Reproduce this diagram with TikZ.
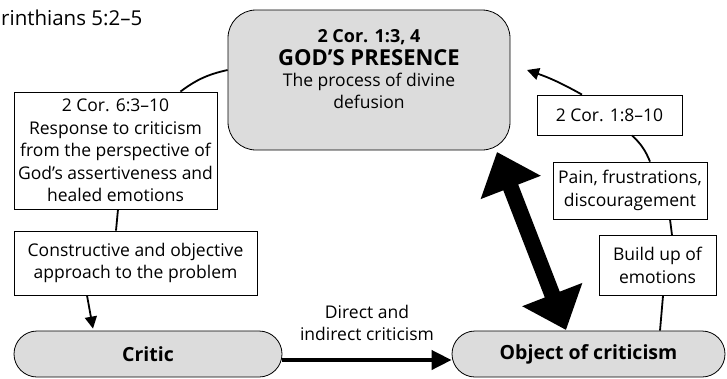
\documentclass[tikz,border=0pt]{standalone}
\usepackage{fontspec}
\setmainfont{Open Sans}
\usetikzlibrary{arrows.meta,calc}
\definecolor{boxgray}{RGB}{220,220,220}
\tikzset{
  txt/.style={font=\fontsize{17.5}{22.5}\selectfont, align=center},
  plainbox/.style={draw, line width=0.8pt, fill=white, inner sep=0pt, txt},
  roundbox/.style={draw, line width=0.8pt, fill=boxgray, rounded corners=23pt, inner sep=0pt, font=\fontsize{19.5}{22}\bfseries},
  conn/.style={line width=1.8pt},
  connarrow/.style={line width=1.8pt, -{Triangle[length=12pt,width=12pt]}},
}
\begin{document}
\begin{tikzpicture}[x=1pt,y=-1pt]
\useasboundingbox (0,0) rectangle (727,378);
% title
\node[anchor=base west, inner sep=0pt, font=\fontsize{20.5}{24}\selectfont] (title) at (1,25) {rinthians 5:2–5};
% top box
\node[draw, line width=0.8pt, fill=boxgray, rounded corners=28pt, minimum width=282pt, minimum height=140pt, inner sep=0pt] (top) at (369,80) {};
\node[anchor=base, inner sep=0pt, font=\fontsize{18}{21}\bfseries] (t1) at (369,42) {2 Cor. 1:3, 4};
\node[anchor=base, inner sep=0pt, font=\fontsize{22}{25}\bfseries] (t2) at (369,65) {GOD’S PRESENCE};
\node[anchor=base, inner sep=0pt, txt] (t3) at (369,86) {The process of divine};
\node[anchor=base, inner sep=0pt, txt] (t4) at (369,108) {defusion};
% left boxes
\node[plainbox, minimum width=203pt, minimum height=117pt] (lbox) at (115.5,150.5)
  {2 Cor. 6:3–10\\Response to criticism\\from the perspective of\\God’s assertiveness and\\healed emotions};
\node[plainbox, minimum width=243pt, minimum height=64pt] (cbox) at (135.5,263)
  {Constructive and objective\\approach to the problem};
% bottom
\node[roundbox, minimum width=268pt, minimum height=46pt] (critic) at (148,354) {Critic};
\node[roundbox, minimum width=273pt, minimum height=46pt] (object) at (588.5,354) {Object of criticism};
\node[anchor=base, inner sep=0pt, txt] (dlabel1) at (367,318) {Direct and};
\node[anchor=base, inner sep=0pt, txt] (dlabel2) at (367,340) {indirect criticism};
% right boxes
\node[plainbox, minimum width=145pt, minimum height=40pt] (r1) at (609.5,115) {2 Cor. 1:8–10};
\node[plainbox, minimum width=154pt, minimum height=57pt] (pain) at (630,190.5) {Pain, frustrations,\\discouragement};
\node[plainbox, minimum width=117pt, minimum height=60pt] (build) at (657.5,265.5) {Build up of\\emotions};
\coordinate (tipR) at (527,70);
% connectors
\draw[conn] ([xshift=-37pt]lbox.north east) to[bend left=12] ([yshift=10pt]top.west);
\draw[conn] ([xshift=2.5pt]lbox.south) -- ([xshift=-19.5pt]cbox.north);
\draw[connarrow] ([xshift=-48.5pt]cbox.south) -- ([xshift=-55pt,yshift=2pt]critic.north);
\draw[line width=4pt, -{Triangle[length=20pt,width=19pt]}] ([yshift=-6pt]critic.east) -- ([yshift=-6pt]object.west);
\draw[connarrow] ([xshift=-27.5pt]r1.north) to[bend right=5] (tipR);
\draw[conn] ([xshift=22.5pt]r1.south) to[bend left=12] ([xshift=20pt]pain.north);
\draw[conn] ([xshift=40pt]pain.south) -- ([xshift=14.5pt]build.north);
\draw[conn] ([xshift=5.5pt]build.south) -- ([xshift=71.5pt]object.north);
% double arrow
\coordinate (dA) at (497,152);
\coordinate (dB) at (566,330);
\draw[line width=16pt, {Triangle[length=38pt,width=62pt]}-{Triangle[length=38pt,width=62pt]}] (dA) -- (dB);
\end{tikzpicture}
\end{document}
